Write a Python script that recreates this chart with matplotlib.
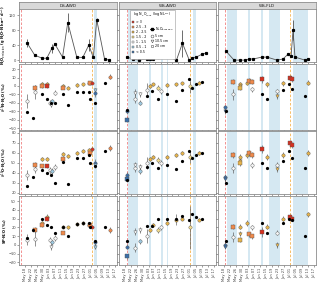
import numpy as np
import matplotlib
matplotlib.use("Agg")
import matplotlib.pyplot as plt
from matplotlib.lines import Line2D

# x axis: days since May 14
tick_days = [4, 8, 12, 16, 20, 24, 28, 32, 36, 40, 44, 48, 52, 56, 60, 64]
tick_labels = ["May 18", "May 22", "May 26", "May 30", "Jun 03", "Jun 07", "Jun 11", "Jun 15",
               "Jun 19", "Jun 23", "Jun 27", "Jul 01", "Jul 05", "Jul 09", "Jul 13", "Jul 17"]

panels = ["DS-AWD", "WS-AWD", "WS-FLD"]

# N2O emission (g N2O-N ha-1 d-1)
emis_days_ds = [5.5, 10.5, 15.5, 18.5, 22, 24, 29, 32.5, 38.5, 42.5, 46.5, 49.5, 51.8, 57, 60]
emis_vals_ds = [45, 13, 5, 5, 32, 42, 8, 100, 8, 7, 40, 7, 107, 3, 0]
emis_err_ds = [10, 2, 1, 1, 12, 3, 2, 25, 2, 1, 15, 1, 5, 1, 1]
emis_days_wa = [5.3, 9.3, 13.3, 18.7, 20.7, 22.7, 26, 32, 38.7, 42.7, 47.3, 49.3, 52, 56, 58.7]
emis_vals_wa = [8, 3, 0, 3, 3, 3, 8, 11, 0, 45, 0, 5, 8, 16, 19]
emis_err_wa = [2, 1, 1, 1, 1, 1, 2, 2, 1, 36, 1, 1, 2, 3, 3]
emis_days_wf = [5.3, 10.7, 14.7, 18, 20.7, 23.3, 29.3, 32.7, 39.3, 43.3, 46.7, 48.7, 50, 51.3, 58, 60]
emis_vals_wf = [24, 0, 0, 0, 3, 3, 8, 8, 0, 3, 16, 11, 80, 8, 0, 3]
emis_err_wf = [2, 1, 1, 1, 1, 1, 2, 2, 1, 1, 3, 2, 27, 2, 1, 1]

# surface (chamber) isotopes: day, d15N, d18O, SP
surf_ds = [(5.3, -31, 27, 8), (9.3, -38, 36, 17), (15, -9, 43, 30), (18.7, -15, 40, 23),
           (21, -20, 38, 20), (24, -20, 30, 14), (29, -9, 51, 21), (32.5, -22, 29, 10),
           (38.5, -7, 55, 24), (42.5, -7, 55, 25), (46.5, -7, 58, 25), (47.5, -15, 50, 20),
           (50.5, -20, 47, 5), (57, 3, 62, 20)]
surf_wa = [(5.3, -28, 33, 4), (18.7, -12, 46, 22), (22, -6, 50, 22), (26, -15, 45, 30),
           (32, -10, 48, 30), (38.7, -18, 44, 30), (42.7, -5, 52, 33), (47.3, 8, 62, 28),
           (49, -2, 55, 35), (52, 2, 58, 32), (56, 5, 60, 30)]
surf_wf = [(5, -30, 30, 4), (29.3, -10, 50, 25), (32.7, -15, 45, 14), (43.3, -5, 52, 25),
           (47, 2, 62, 30), (49.5, -3, 55, 28), (58, -12, 45, 10)]

# soil-air samples: day, depth marker, class, d15N, err, d18O, err, SP, err
soil_ds = [(5.3, "o", 4, -18, 8, 38, 5, 6, 6), (10.5, "s", 1, -2, 3, 48, 3, 17, 3),
           (10.5, "o", 4, -7, 8, 44, 4, 7, 8), (15, "o", 2, 2.5, 2, 54, 2, 25, 2),
           (15, "s", 1, 0, 2, 47, 2, 23, 2), (18.7, "o", 2, 2.5, 2, 54, 2, 32, 3),
           (18.7, "s", 0, 0, 2, 47, 2, 30, 3), (20.5, "o", 4, -20, 3, 43, 3, 6, 3),
           (21.5, "v", 4, -22, 3, 40, 3, -2, 4), (22, "o", 5, -18, 3, 42, 3, 3, 3),
           (24, "o", 4, -8, 3, 46, 3, 8, 3), (29, "o", 2, 0, 2, 59, 2, 21, 2),
           (29, "s", 1, -2, 2, 54, 2, 14, 2), (32.5, "o", 2, -2, 2, 57, 2, 20, 2),
           (38.5, "o", 2, 1, 2, 60, 2, 24, 2), (42.5, "o", 2, 2, 2, 62, 2, 25, 2),
           (46.5, "o", 2, 4, 2, 63, 2, 23, 2), (47.5, "s", 1, 3, 2, 60, 2, 23, 2),
           (48.5, "o", 0, 4, 2, 64, 2, 21, 2), (50.5, "o", 6, -8, 5, 50, 4, 3, 3),
           (50.5, "v", 5, -5, 3, 48, 3, -2, 3), (60.5, "o", 1, 11, 3, 65, 3, 17, 3)]
soil_wa = [(5.3, "o", 6, -30, 3, 38, 3, -2, 3), (5.3, "s", 6, -40, 3, 34, 3, -13, 3),
           (10.5, "o", 4, -15, 5, 45, 4, -3, 5), (10.5, "v", 4, -8, 4, 48, 3, 15, 4),
           (14, "o", 5, -20, 3, 42, 3, 4, 3), (14, "v", 4, -10, 3, 46, 3, 17, 3),
           (18.7, "o", 4, -5, 8, 50, 6, 10, 8), (20.7, "o", 2, 0, 2, 54, 2, 17, 2),
           (22.7, "o", 2, 2, 2, 56, 2, 23, 2), (26, "o", 3, -2, 3, 53, 3, 17, 3),
           (28, "o", 4, -6, 3, 50, 3, 20, 3), (32, "o", 2, 1, 2, 56, 2, 25, 2),
           (38.7, "o", 2, 2, 2, 58, 2, 29, 6), (42.7, "o", 2, 3, 2, 60, 2, 30, 2),
           (47.5, "o", 3, 0, 8, 56, 6, 20, 25), (54, "o", 2, 4, 2, 60, 2, 29, 2)]
soil_wf = [(4.5, "o", 6, -25, 3, 36, 3, 0, 3), (4.5, "v", 6, -30, 3, 34, 3, -2, 3),
           (10, "s", 1, 5, 3, 58, 3, 21, 3), (10, "o", 4, -10, 6, 45, 5, 9, 6),
           (14.7, "o", 2, 2, 3, 56, 3, 21, 3), (14.7, "v", 2, 0, 3, 52, 3, 13, 3),
           (14.7, "s", 2, -2, 3, 50, 3, 6, 3), (19, "o", 2, 4, 3, 58, 3, 25, 3),
           (20.5, "s", 1, 6, 3, 60, 3, 12, 3), (22.5, "s", 1, 5, 3, 58, 3, 10, 3),
           (22.5, "o", 4, -4, 3, 48, 3, 20, 3), (29.3, "s", 0, 8, 4, 64, 4, 15, 6),
           (32.7, "o", 2, 2, 3, 56, 3, 21, 3), (39.3, "o", 4, -6, 3, 48, 3, 14, 3),
           (39.3, "v", 2, -12, 3, 44, 3, 0, 3), (43.3, "o", 2, 3, 3, 58, 3, 30, 3),
           (48, "s", 0, 10, 3, 70, 3, 32, 3), (49.5, "s", 0, 8, 3, 68, 3, 30, 3),
           (60, "o", 2, 4, 3, 60, 3, 35, 3)]

# background markers (days): start, harvest/drain, flooded intervals
pink_days = [1.3, 5.3, 4.5]
orange_days = [48.7, 48, 48]
bands = [[(50, 52)],
         [(6, 12.7), (20, 21.3), (28, 29.3), (32, 33.3), (50, 52)],
         [(6, 12.7), (20, 21.3), (28.7, 30), (34, 41.3), (50, 60)]]

cls_colors = ["#d7301f", "#f08a4b", "#e8b44a", "#f3dc8c", "#f7f7f7", "#9ecae1", "#3b6fa8"]
cls_labels = ["> 3", "2.5 - 3", "2 - 2.5", "1.5 - 2", "1 - 1.5", "0.5 - 1", "< 0.5"]

row_ylabels = [r"N$_2$O$_{emission}$ (g N$_2$O-N ha$^{-1}$ d$^{-1}$)",
               r"$\delta^{15}$N-N$_2$O (‰)", r"$\delta^{18}$O-N$_2$O (‰)", r"SP-N$_2$O (‰)"]
row_ylims = [(-5, 136), (-52, 26), (19, 82), (-23, 56)]
row_yticks = [[0, 40, 80, 120], [-50, -40, -30, -20, -10, 0, 10, 20],
              [20, 30, 40, 50, 60, 70, 80], [-20, -10, 0, 10, 20, 30, 40, 50]]

emis = [(emis_days_ds, emis_vals_ds, emis_err_ds), (emis_days_wa, emis_vals_wa, emis_err_wa),
        (emis_days_wf, emis_vals_wf, emis_err_wf)]
surf = [surf_ds, surf_wa, surf_wf]
soil = [soil_ds, soil_wa, soil_wf]

W, H = 320, 283
fig = plt.figure(figsize=(W / 100, H / 100), dpi=100)
col_px = [(19, 117), (119, 216), (218, 316)]
row_px = [(9, 62), (64, 130), (131, 194), (196, 265)]


def px_rect(x0, x1, y0, y1):
    return [x0 / W, 1 - y1 / H, (x1 - x0) / W, (y1 - y0) / H]


for c, name in enumerate(panels):
    sax = fig.add_axes(px_rect(col_px[c][0], col_px[c][1], 2, 9))
    sax.set_facecolor("#d9d9d9")
    sax.set_xticks([])
    sax.set_yticks([])
    for s in sax.spines.values():
        s.set_color("#7f7f7f")
        s.set_linewidth(0.5)
    sax.text(0.5, 0.45, name, ha="center", va="center", fontsize=3, color="#1a1a1a",
             transform=sax.transAxes)

    for r in range(4):
        ax = fig.add_axes(px_rect(col_px[c][0], col_px[c][1], row_px[r][0], row_px[r][1]))
        ax.set_xlim(0, 65.3)
        ax.set_ylim(*row_ylims[r])
        for a, b in bands[c]:
            ax.axvspan(a, b, color="#d5e8f2", lw=0, zorder=0)
        ax.axvline(pink_days[c], color="#f08080", ls=(0, (3, 2)), lw=0.6, zorder=1)
        ax.axvline(orange_days[c], color="#f6b450", ls=(0, (3, 2)), lw=0.6, zorder=1)

        if r == 0:
            d, v, e = emis[c]
            ax.errorbar(d, v, yerr=e, color="#555555", lw=0.6, elinewidth=0.6,
                        capsize=0, zorder=2)
            ax.plot(d, v, "s", color="black", ms=1.3, zorder=3)
        else:
            for smp in soil[c]:
                day, mk, k = smp[0], smp[1], smp[2]
                val, err = smp[2 * r + 1], smp[2 * r + 2]
                ax.errorbar(day, val, yerr=err, color="#666666", elinewidth=0.5,
                            capsize=0, zorder=2)
                ax.plot(day, val, mk, mfc=cls_colors[k], mec="#555555", mew=0.3,
                        ms=2.4, zorder=3)
            sd = [p[0] for p in surf[c]]
            sv = [p[r] for p in surf[c]]
            ax.plot(sd, sv, "o", color="black", ms=1.3, zorder=4)

        ax.set_xticks(tick_days)
        ax.set_yticks(row_yticks[r])
        ax.tick_params(length=1.2, width=0.4, color="#555555", pad=1, labelsize=2.6,
                       labelcolor="#444444")
        if r == 3:
            ax.set_xticklabels(tick_labels, rotation=90)
        else:
            ax.set_xticklabels([])
        if c > 0:
            ax.set_yticklabels([])
        else:
            ax.set_ylabel(row_ylabels[r], fontsize=2.6, fontweight="bold")
            ax.yaxis.set_label_coords(-0.1, 0.5)
        for s in ax.spines.values():
            s.set_color("#8c8c8c")
            s.set_linewidth(0.6)

# legend (inside WS-AWD emission panel)
handles = [Line2D([], [], ls="none", marker="s", ms=2, mfc=col, mec="#555555", mew=0.3)
           for col in cls_colors]
blank = Line2D([], [], ls="none")
handles += [blank,
            Line2D([], [], color="black", marker="s", ms=1.8, lw=0.6),
            Line2D([], [], ls="none", marker="o", ms=2, mfc="white", mec="#555555", mew=0.4),
            Line2D([], [], ls="none", marker="v", ms=2, mfc="white", mec="#555555", mew=0.4),
            Line2D([], [], ls="none", marker="s", ms=2, mfc="white", mec="#555555", mew=0.4),
            blank, blank]
labels = cls_labels + ["", r"N$_2$O$_{emission}$", "5 cm", "10.5 cm", "20 cm", "", ""]
fig.legend(handles, labels, ncol=2, loc="upper left", bbox_to_anchor=(128 / W, 1 - 8 / H),
           fontsize=2.3, title=r"log N$_2$O$_{conc}$ (log N L$^{-1}$)", title_fontsize=2.3,
           frameon=True, edgecolor="#999999", fancybox=False, framealpha=1,
           handlelength=1.2, handletextpad=0.4, columnspacing=1.0, labelspacing=0.3,
           borderpad=0.4).get_frame().set_linewidth(0.4)

fig.savefig("out.png", dpi=100)
